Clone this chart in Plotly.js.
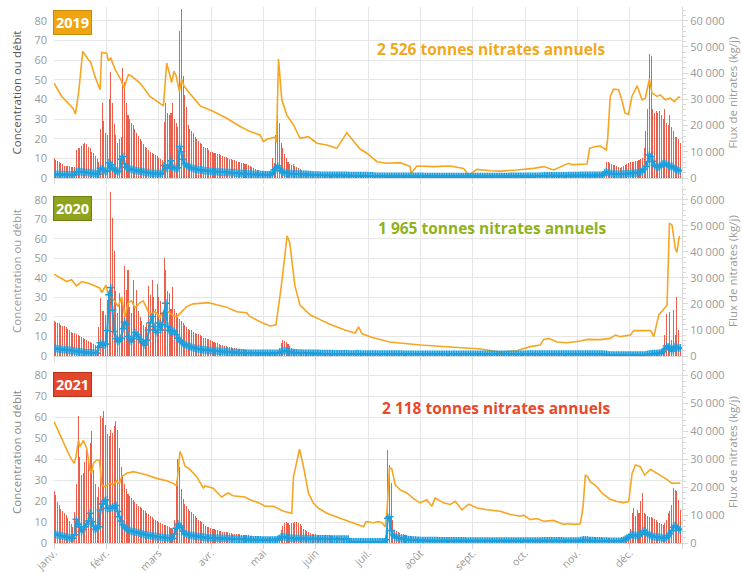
<!DOCTYPE html>
<html><head><meta charset="utf-8">
<script src="https://cdn.plot.ly/plotly-3.0.1.min.js"></script>
<style>html,body{margin:0;padding:0;background:#fff}#chart{width:742px;height:573px}</style>
</head><body><div id="chart"></div>
<script>
const years = ['2019', '2020', '2021'];
const totals = [2526, 1965, 2118];
const months = ['janv.', 'févr.', 'mars', 'avr.', 'mai', 'juin', 'juil.', 'août', 'sept.', 'oct.', 'nov.', 'déc.'];

// ---- 2019 ----
const flux2019 = [
7500,6800,6400,6000,5600,5300,4500,4500,4400,4400,
4100,4100,4100,10700,11300,11600,12400,12800,13300,12800,
12000,11300,10100,9500,8300,7100,6000,18800,28500,21800,
17300,16500,30000,40500,28500,20700,16500,13500,15000,15800,
42000,36800,28500,24000,22500,21000,20300,18800,17300,16100,
15000,14300,13100,12000,11300,10500,9800,9400,9000,8600,
8300,7500,7100,6800,21500,28500,24800,24000,24800,28500,
22500,21000,19500,56000,64500,39000,31500,27000,20300,18800,
18000,17300,15800,15000,14300,13500,12800,12000,11600,11300,
10500,10100,9800,9600,9400,9200,9000,8600,8300,8100,
7900,7500,7400,7100,7000,6800,6500,6200,6000,5800,
5600,5400,5300,4900,4500,4100,3800,3500,3200,2900,
2600,2400,2300,2100,2000,1900,2300,7500,5600,16500,
30800,21000,13500,11300,9000,7500,6000,5300,4900,5300,
4500,4100,3800,3400,3000,2600,2300,1900,1500,1400,
1100,1000,950,900,900,880,860,850,830,820,
800,800,790,780,900,1100,1300,1200,1000,900,
850,800,780,760,740,720,700,700,680,660,
650,640,620,600,600,580,560,550,540,530,
520,510,500,500,490,480,470,460,460,450,
450,440,440,430,430,420,420,400,380,400,
410,410,400,400,400,390,390,390,380,380,
380,370,370,370,360,360,360,350,350,350,
350,340,340,340,330,330,330,320,320,320,
310,300,310,320,320,320,320,320,310,310,
310,300,300,300,300,300,300,300,290,290,
290,290,290,290,290,300,300,300,310,310,
320,320,330,330,340,340,350,350,360,360,
370,380,390,400,410,420,430,430,440,440,
450,450,460,470,480,500,520,540,560,600,
650,700,700,720,740,760,780,800,820,850,
900,1400,1600,1700,1800,1900,1900,1900,1800,1800,
2500,6200,6000,5600,5300,5100,4900,4500,4100,3800,
4100,4500,4900,5300,5600,6000,6000,6000,6400,6400,
6800,7100,7500,11300,18000,26300,47300,46500,26300,24800,
25500,24800,25500,24000,22500,26300,21000,20300,24000,19500,
18000,15800,15800,15000,13500];
const debit2019 = [
1.9,1.9,1.8,1.8,1.7,1.7,1.7,1.7,1.7,1.6,
1.6,1.6,1.7,3.2,3.3,3.2,3.1,3.0,2.9,2.8,
2.7,2.6,2.5,2.4,2.2,2.1,2.0,4.9,4.6,3.8,
3.3,3.6,7.8,6.8,5.0,4.2,3.6,3.2,3.4,9.5,
10.9,7.2,5.5,4.9,4.6,4.3,4.1,3.9,3.8,3.6,
3.5,3.3,3.1,2.9,2.8,2.6,2.5,2.4,2.3,2.3,
2.2,2.2,2.2,2.3,6.3,5.0,4.9,6.5,8.8,5.5,
4.9,4.8,5.2,16.0,13.4,9.5,7.2,6.3,5.8,5.4,
5.1,4.9,4.6,4.4,4.2,4.1,4.0,3.8,3.7,3.6,
3.5,3.4,3.3,3.3,3.2,3.2,3.1,3.0,3.0,2.9,
2.9,2.8,2.8,2.7,2.7,2.6,2.5,2.4,2.4,2.3,
2.2,2.2,2.1,2.1,2.0,1.9,1.9,1.8,1.8,1.8,
1.7,1.7,1.7,1.6,1.6,1.6,1.7,2.5,4.1,5.0,
6.1,5.0,3.7,3.0,2.6,2.4,2.3,2.2,2.2,2.1,
2.1,2.0,2.0,2.0,1.9,1.9,1.8,1.8,1.7,1.7,
1.6,1.5,1.5,1.5,1.5,1.4,1.4,1.4,1.4,1.4,
1.3,1.3,1.3,1.3,1.3,1.4,1.4,1.3,1.3,1.3,
1.3,1.3,1.2,1.2,1.2,1.2,1.2,1.2,1.2,1.2,
1.2,1.2,1.2,1.1,1.1,1.1,1.0,0.9,0.9,0.9,
0.9,0.9,0.9,0.8,0.8,0.8,0.8,0.8,0.8,0.8,
0.8,0.8,0.8,0.8,0.8,0.8,0.8,0.8,0.8,0.8,
0.8,0.8,0.8,0.8,0.8,0.7,0.7,0.7,0.7,0.7,
0.7,0.7,0.7,0.7,0.7,0.7,0.7,0.7,0.7,0.7,
0.7,0.7,0.7,0.7,0.7,0.7,0.7,0.7,0.7,0.7,
0.7,0.7,0.7,0.7,0.7,0.7,0.7,0.7,0.7,0.7,
0.7,0.7,0.7,0.7,0.7,0.7,0.7,0.7,0.7,0.7,
0.7,0.7,0.7,0.7,0.7,0.8,0.8,0.8,0.8,0.8,
0.8,0.8,0.8,0.8,0.8,0.8,0.8,0.8,0.8,0.8,
0.9,0.9,0.9,1.0,1.0,1.1,1.1,1.1,1.1,1.1,
1.1,1.1,1.1,1.1,1.1,1.1,1.1,1.1,1.1,1.2,
1.2,1.2,1.2,1.2,1.2,1.2,1.3,1.3,1.3,1.3,
1.3,1.3,1.3,1.3,1.3,1.3,1.3,1.3,1.4,1.5,
2.5,3.2,2.8,2.4,2.2,2.1,2.0,2.0,1.9,1.9,
2.0,2.1,2.1,2.2,2.3,2.3,2.4,2.4,2.5,2.6,
2.8,3.0,3.5,4.5,6.0,8.3,11.7,10.9,8.5,6.6,
5.8,5.5,6.0,6.6,7.1,7.5,7.0,6.2,5.8,6.1,
5.5,4.8,4.1,3.9,3.7];
const concDay2019 = [0,4.5,11,12.5,14.5,16.7,20,21.3,23.8,26.8,27.7,30.6,31.6,33,35.6,38.9,40.7,43.2,44.8,50,55.8,61.6,63.6,65.5,68.4,69.7,71,72.9,74.2,75.5,77.5,85,92.6,100.4,108.2,114,119.8,121.7,123.6,128.5,129.3,130.5,132.4,135.3,139.2,143,147.9,152.8,158.6,164.4,170.2,172,178,181.9,187.7,193.5,201.2,207,207.5,210.9,220.6,230.3,238,241,245.8,253.6,259.4,269,278.7,284.6,290.4,299,301,309.8,311.3,314.6,317.5,321,321.8,323.3,325.2,328.2,330,331.9,333.9,335.9,338.9,341.8,343.7,346,347.6,350.5,352.4,355.3,358.2,360.6,363,364];
const conc2019 = [48.3,41.5,35.5,32.5,45,64.4,60.2,59,51.7,44.9,63.9,63.5,59.7,61,55,50,45.7,52.5,52,48.3,41.5,38,36.7,58.5,48.6,54.2,52,44,50.3,47,44.5,36.7,33.8,30.4,26.2,23.6,21.9,18.5,19.7,20.7,18,60.5,39.8,32,27,20.2,21,17.7,16.8,15.1,23.1,21,14.6,12.6,8.3,7.5,7.8,5.8,2.4,6.1,5.8,6.1,4.9,1.5,4.4,3.7,3.5,4.1,4.9,5.8,4.1,7.5,6.8,7.1,15.1,16,16.3,14.3,20,41.5,45.2,44.9,39.8,33,32.3,41.5,46.9,39.8,40.6,50.3,43.2,41.5,42.3,39.8,40.6,38.9,41.2,41];

// ---- 2020 ----
const flux2020 = [
13400,13100,12800,12500,12000,11600,11400,11200,10500,9800,
9200,9000,8800,8600,8100,7700,7300,7000,6600,6200,
5900,5400,5000,4700,4400,4100,11300,22100,17300,17300,
15800,21500,25400,63000,53000,40400,24800,16500,24000,22500,
19500,34500,25500,33000,18800,16500,29300,18800,25500,17300,
15000,13500,11800,11300,12500,26700,23300,29300,22500,18000,
27800,22500,21000,16500,37500,33000,24800,24000,18000,26300,
18000,16500,15800,14300,13500,12800,12000,11300,10500,10100,
9800,9400,9000,8600,8300,7900,7500,7100,6800,6600,
6400,6000,5700,5400,5100,4900,4700,4400,4200,4000,
3800,3600,3500,3300,3200,3000,2900,2700,2600,2400,
2300,2200,2100,2000,1900,1800,1700,1700,1600,1600,
1500,1500,1400,1400,1400,1300,1300,1300,1200,1300,
2000,3000,5000,6200,5800,5200,4500,3800,3200,2700,
2300,2000,1800,1600,1500,1400,1300,1200,1100,1100,
1000,1000,950,900,900,850,850,800,800,800,
750,750,750,700,700,700,700,700,650,650,
650,650,650,650,700,800,900,800,700,650,
600,600,600,550,550,550,500,500,500,500,
480,480,460,460,450,450,440,440,430,430,
420,420,410,410,400,400,400,390,390,390,
380,380,380,370,370,370,360,360,360,350,
350,350,340,340,340,330,330,330,320,320,
320,310,310,310,300,300,300,290,290,290,
280,280,280,270,270,270,260,260,260,250,
250,250,240,240,240,230,230,220,220,210,
210,200,200,200,210,220,230,240,250,260,
270,280,300,320,340,360,380,400,420,440,
460,480,500,600,700,720,730,700,680,650,
630,600,600,580,580,570,570,560,560,560,
570,580,590,600,620,640,660,680,700,720,
740,740,740,730,730,730,720,720,720,720,
700,650,500,450,400,380,380,380,380,380,
380,380,380,400,420,430,450,500,550,600,
600,600,600,600,600,650,800,900,1000,1100,
1200,1400,1600,2000,3500,8000,16000,4000,17000,6000,
17500,8000,22500,10000,4000];
const debit2020 = [
3.9,3.8,3.7,3.5,3.4,3.3,3.2,3.1,3.0,2.9,
2.8,2.7,2.5,2.3,2.2,2.1,2.0,1.9,1.8,1.7,
1.7,1.6,1.6,1.5,1.5,1.4,4.5,6.8,6.0,5.6,
6.2,13.0,31.3,35.0,23.4,12.5,9.0,7.3,8.0,9.1,
14.0,17.4,16.2,10.0,8.5,7.3,9.0,12.0,11.0,10.0,
8.5,7.3,6.5,5.6,8.0,13.3,17.0,20.2,15.1,13.0,
12.0,16.9,13.3,16.0,21.9,27.0,15.1,13.0,12.5,13.0,
12.5,11.0,9.1,8.0,7.2,6.5,6.0,5.5,5.1,4.8,
4.5,4.2,4.0,3.7,3.5,3.4,3.3,3.2,3.1,3.0,
2.9,2.8,2.7,2.6,2.6,2.5,2.4,2.3,2.2,2.2,
2.1,2.0,2.0,1.9,1.9,1.8,1.8,1.7,1.7,1.6,
1.6,1.5,1.5,1.4,1.4,1.4,1.4,1.3,1.3,1.3,
1.3,1.3,1.3,1.3,1.3,1.3,1.3,1.3,1.3,1.3,
1.4,1.5,2.0,2.6,2.8,2.6,2.3,2.0,1.8,1.7,
1.6,1.6,1.5,1.5,1.5,1.4,1.4,1.4,1.4,1.3,
1.3,1.3,1.3,1.3,1.3,1.2,1.2,1.2,1.2,1.2,
1.2,1.2,1.2,1.1,1.1,1.1,1.1,1.1,1.1,1.1,
1.1,1.1,1.0,1.0,1.0,1.1,1.2,1.1,1.0,1.0,
1.0,1.0,1.0,1.0,1.0,1.0,1.0,1.0,1.0,1.0,
1.0,1.0,1.0,1.0,1.0,1.0,1.0,1.0,1.0,1.0,
1.0,1.0,1.0,0.9,0.9,0.9,0.9,0.9,0.9,0.9,
0.9,0.9,0.9,0.9,0.9,0.9,0.9,0.9,0.9,0.9,
0.9,0.9,0.9,0.9,0.9,0.9,0.9,0.9,0.9,0.9,
0.9,0.9,0.9,0.9,0.9,0.9,0.9,0.9,0.9,0.9,
0.9,0.9,0.9,0.9,0.9,0.9,0.9,0.9,0.9,0.9,
0.9,0.9,0.9,0.9,0.9,0.9,0.9,0.9,0.9,0.9,
0.9,0.9,0.9,0.9,0.9,0.9,0.9,0.9,0.9,0.9,
0.9,0.9,0.9,0.9,0.9,1.0,1.0,1.0,1.0,1.0,
1.0,1.0,1.0,1.0,1.0,1.0,1.0,1.0,1.0,1.0,
1.0,1.0,1.0,1.0,1.0,1.0,1.0,1.0,1.0,1.0,
1.0,1.0,1.0,1.0,1.0,1.0,1.0,1.0,1.0,1.0,
1.0,1.0,1.0,1.0,1.0,1.0,1.0,1.0,1.0,1.0,
0.9,0.8,0.6,0.5,0.5,0.5,0.5,0.5,0.5,0.5,
0.5,0.5,0.5,0.5,0.5,0.5,0.5,0.5,0.5,0.5,
0.5,0.5,0.5,0.5,0.6,0.8,1.0,1.1,1.2,1.2,
1.2,1.3,1.4,1.6,2.3,3.5,5.1,4.5,3.9,2.6,
3.9,4.8,4.3,3.9,4.2];
const concDay2020 = [0,4.4,7.3,10.2,13.1,16.1,20.9,26.7,27.7,30.2,31.6,32.6,34.5,37.4,39.3,41.3,43.2,45.1,47.1,50,51.9,54.8,56.8,58.7,61.6,63.5,65.5,67.4,69.3,71.3,74.2,77.1,80.9,84.8,89.7,94.5,100.4,106.2,112,113.5,121,125.6,129,132,135.5,137,140,143,149,155,160,169,175,177,179,184,195,213,230,248,259.4,269,276.8,282.6,284.6,287.5,292.3,298,306,310,317.5,323.3,326.3,329.2,335,337,346.7,348.6,351.5,354.4,356.3,357.7,359.2,361.1,362,363.4,364];
const conc2020 = [41.9,39.8,38.1,39,35.9,38.1,37,34.7,32.5,36.2,31.3,30.1,29,25.3,30.3,20.2,27.3,28.2,24.7,27.3,28.2,22.6,21.7,22.6,20,22.6,23.4,21.7,20.9,20,22.6,25.3,26.7,27,27.3,26.2,25,22.6,22.1,20.4,17,15.4,16,35,61.5,58,36,26,21,18.5,16.4,13.3,11.8,14.9,11.5,9.7,7.2,5.6,4.6,3.6,2,2.7,4.8,5.6,8.5,9,7.2,6.8,7.7,8.5,8.4,9,10.7,9.9,10.7,13,13,9.9,21,24.4,26,68,67,55,53,61,61];

// ---- 2021 ----
const flux2021 = [
18800,17300,14700,13500,12300,11400,10700,9900,8900,7900,
6900,5800,11100,21300,45600,31000,24400,25200,29200,34400,
28600,36000,40000,26200,21300,16500,20100,45400,44800,47200,
42400,39200,38500,40600,39400,41800,43600,40600,34000,27400,
24400,21300,19500,17700,16900,16100,15300,14600,14000,13400,
12900,12400,11900,11300,10800,10300,9800,9200,8700,8300,
8000,7600,7200,6900,6600,6300,6000,5700,5500,5200,
8100,22400,30200,27200,19400,15800,14000,13100,12300,11600,
11000,10500,9800,9000,8400,7900,7400,6800,6200,5800,
5600,5300,5100,4900,4700,4500,4400,4300,4100,4100,
4000,3800,3700,3500,3400,3300,3200,3200,3100,3000,
2900,2900,2800,2700,2600,2500,2500,2400,2400,2300,
2300,2200,2200,2100,2100,2000,2000,2000,1900,1900,
2200,3000,4500,6000,7000,7500,7000,6500,7000,7000,
7500,7600,7200,6800,6000,5200,4600,4300,3900,3600,
3400,3200,3100,3000,2900,2800,2800,2700,2700,2600,
2500,2400,2300,2200,2100,2000,1900,1800,1700,1700,
1600,1600,900,850,800,800,800,800,800,800,
800,800,800,800,800,800,800,800,800,800,
780,760,750,5000,33400,28000,21500,8300,4700,4200,
3800,3500,3300,3100,2900,2700,2500,2400,2200,2100,
2000,1800,1700,1600,1500,1400,1400,1300,1300,1200,
1200,1100,1100,1100,1000,1000,1000,1000,950,950,
950,900,900,900,900,850,850,850,850,800,
800,800,800,800,780,780,760,760,740,740,
720,720,700,700,700,680,680,660,660,640,
640,620,620,600,600,600,580,580,560,560,
550,550,540,540,530,530,520,520,510,510,
500,500,500,490,490,480,480,470,470,460,
460,450,450,440,440,430,430,420,420,420,
410,410,400,400,400,400,500,1800,2600,2500,
2400,2300,2300,2200,2200,2100,2100,2000,2000,1900,
1900,1800,1700,1600,1400,1200,1100,1000,1000,1000,
1100,1300,1600,2000,2500,5200,10700,12500,9800,11900,
10700,14900,17900,10700,10400,9800,9500,9200,8900,8600,
8300,7700,7100,6800,6500,7000,8300,10700,11300,13700,
19700,19100,18500,15500,12000];
const debit2021 = [
4.3,4.1,3.9,3.7,3.5,3.3,3.1,2.9,2.7,2.5,
2.3,2.2,4.0,11.3,9.0,7.8,5.4,6.5,7.8,9.1,
10.5,14.2,10.2,8.0,6.5,7.0,7.8,15.8,18.7,20.0,
20.6,16.6,16.5,16.6,17.0,17.4,17.9,15.0,12.6,10.5,
8.6,7.5,6.8,6.2,5.9,5.6,5.4,5.2,5.1,4.9,
4.7,4.5,4.2,4.0,3.8,3.7,3.5,3.4,3.2,3.1,
3.0,2.9,2.8,2.7,2.6,2.5,2.4,2.3,2.2,2.2,
4.3,7.0,9.1,8.2,7.5,5.6,4.6,4.2,3.9,3.7,
3.6,3.5,3.3,3.2,3.1,3.0,2.9,2.8,2.6,2.5,
2.5,2.4,2.4,2.3,2.3,2.3,2.2,2.2,2.2,2.2,
2.2,2.1,2.1,2.0,2.0,1.9,1.9,1.9,1.8,1.8,
1.8,1.7,1.7,1.7,1.6,1.6,1.5,1.5,1.5,1.5,
1.5,1.4,1.4,1.4,1.4,1.4,1.4,1.4,1.4,1.5,
1.7,2.2,2.8,3.0,2.9,2.7,2.5,2.4,2.3,2.2,
2.2,2.2,2.2,2.1,2.1,2.1,2.1,2.1,2.0,2.0,
2.0,2.0,2.0,2.0,2.0,2.0,2.0,2.0,2.0,2.0,
2.0,2.0,1.9,1.9,1.9,1.9,1.9,1.9,1.9,1.9,
1.9,1.9,0.6,0.6,0.6,0.6,0.6,0.6,0.6,0.6,
0.6,0.6,0.6,0.6,0.6,0.6,0.6,0.6,0.6,0.6,
0.6,0.6,0.6,1.5,11.8,12.6,6.0,3.8,3.0,2.6,
2.4,2.2,2.0,1.9,1.8,1.7,1.6,1.5,1.5,1.4,
1.4,1.3,1.3,1.2,1.2,1.2,1.1,1.1,1.1,1.1,
1.1,1.1,1.1,1.1,1.0,1.0,1.0,1.0,1.0,1.0,
1.0,1.0,1.0,1.0,1.0,1.0,1.0,1.0,1.0,1.0,
0.9,0.9,0.9,0.9,0.9,0.9,0.9,0.9,0.9,0.9,
0.9,0.9,0.9,0.9,0.9,0.9,0.9,0.9,0.9,0.9,
0.9,0.9,0.9,0.9,0.9,0.9,0.9,0.9,0.9,0.9,
0.9,0.9,0.9,0.9,0.9,0.9,0.9,0.9,0.9,0.9,
0.9,0.9,0.9,0.9,1.0,1.0,1.0,1.0,1.0,1.0,
1.0,1.0,1.0,1.0,1.0,1.0,0.9,0.9,0.9,0.9,
0.9,0.9,0.9,0.9,0.9,0.9,1.2,1.3,1.3,1.3,
1.3,1.2,1.2,1.1,1.0,0.9,0.9,0.9,0.9,0.9,
0.9,0.9,0.9,0.8,0.8,0.8,0.8,0.8,0.8,0.8,
1.0,1.3,1.8,2.3,2.7,3.3,4.0,3.8,3.5,3.5,
3.5,4.2,5.0,5.9,4.8,4.3,3.9,3.6,3.2,3.0,
2.9,2.8,2.7,2.5,2.3,2.2,2.6,3.5,4.6,5.9,
7.5,8.3,7.5,6.7,6.2];
const concDay2021 = [0,2.5,6.4,9.3,11.7,12.8,14.2,15.1,17.1,19,20.9,21.8,22.9,24.8,26.4,27.7,29.7,32.6,34.5,36.4,38,39.3,42.2,46.1,50,53.9,59.7,65.5,69.3,71.3,72.2,73.2,74.2,76.1,79,82.9,86.8,87.7,92.5,97.4,101.2,104.1,110.9,113.9,118.8,122.7,127.6,133.4,138.2,139.2,142.7,145,147.9,150.8,153.7,158.6,166.3,174.1,179.9,181.4,185.7,188.6,190.6,192.5,193.5,195,196.4,198.3,201.2,205.1,209,212.8,216.7,219.6,221.5,226.4,230.3,233.2,237.1,241,245.8,251.6,259.4,265.2,271,272.9,276.8,280.7,284.6,290.4,296.2,298.1,303,305.9,307.5,308.8,310.2,311.7,315.6,318.5,323.3,327.2,331.1,334,336,337.9,340.8,343.3,346.6,350.5,355.3,359.2,363,364];
const conc2021 = [58,53.3,46.1,41.3,38.1,41.3,49,46.1,49,45.3,34.9,33.3,38.1,39.7,39.7,27.8,26.9,28.5,27.8,29.8,28.2,31.7,33.3,34.1,33.3,32.5,30.9,29.8,28.5,27.3,34.9,43.7,42.1,36.8,35.2,31.7,26.3,27.3,26.2,22,23.9,22.6,22,20.7,19.3,17.6,17.6,15.2,14.2,31.7,44.8,36.5,23.8,19,16.6,14.2,11.8,9.4,7.8,10.2,9.7,10.2,9.7,7.8,14.8,36.2,35.3,27.8,25.4,23.9,21.2,19.2,20.7,17.5,21.5,19.2,18.4,19.9,15.9,18.6,16.7,15.9,15.2,13.6,12.8,13.3,11.2,11.7,10.4,10.8,8.9,9.2,8.9,9.2,17.4,32.5,31.7,29.3,26.9,23.8,20.9,19.8,19.3,19.8,33.3,37.3,36.5,32.5,35.2,33.3,30.9,28.5,28.5,28.7];

// ---------- styling / layout ----------
const FONT = '"Open Sans", "DejaVu Sans", sans-serif';
const W = 742, H = 573, ML = 54, MR = 60, MT = 7, MB = 30;
const PH = H - MT - MB, PW = W - ML - MR;
const CMAX = 87, RATIO = 750;
const colOrange = '#f5a623', colBlue = '#1e9fdc', colRed = 'rgba(232,67,45,0.85)';
const gridCol = '#e6e6e6', lineCol = '#d8d8d8', tickCol = '#999999';

const panels = [
  {flux: flux2019, debit: debit2019, cx: concDay2019, cy: conc2019, top: 7, bottom: 178,
   badge: '#efa512', border: '#c98a05', text: '#f2a81d', badgeTop: 10, labelX: 491, labelY: 48.5, ltitle: '#555'},
  {flux: flux2020, debit: debit2020, cx: concDay2020, cy: conc2020, top: 186, bottom: 356,
   badge: '#8fa31c', border: '#6f7f10', text: '#8fb21c', badgeTop: 196, labelX: 492, labelY: 228.3, ltitle: '#999'},
  {flux: flux2021, debit: debit2021, cx: concDay2021, cy: conc2021, top: 361, bottom: 543,
   badge: '#e2472b', border: '#b8321a', text: '#e8492d', badgeTop: 372, labelX: 496, labelY: 408.3, ltitle: '#888'}
];
const py = v => (H - MB - v) / PH;   // pixel -> paper
const px = v => (v - ML) / PW;
const sfx = n => n === 1 ? '' : String(n);
const fmt = n => String(n).replace(/\B(?=(\d{3})+(?!\d))/g, ' ');

const nDays = flux2019.length;
const days = flux2019.map((_, i) => i);
const monthTicks = months.map((_, i) => i * nDays / 12).concat([nDays]);
const monthText = months.concat(['']);

const traces = [];
const layout = {
  width: W, height: H,
  margin: {l: ML, r: MR, t: MT, b: MB},
  paper_bgcolor: '#fff', plot_bgcolor: '#fff',
  showlegend: false, separators: ', ',
  font: {family: FONT, size: 11, color: tickCol},
  bargap: 0, annotations: []
};

panels.forEach((p, i) => {
  const xa = 'x' + sfx(i + 1), yf = 'y' + sfx(2 * i + 1), yc = 'y' + sfx(2 * i + 2);
  const dom = [py(p.bottom), py(p.top)];
  traces.push({type: 'bar', x: days, y: p.flux, xaxis: xa, yaxis: yf, width: 0.6,
    marker: {color: colRed, line: {width: 0}}, hoverinfo: 'skip'});
  traces.push({type: 'scatter', mode: 'lines', x: p.cx, y: p.cy, xaxis: xa, yaxis: yc,
    line: {color: colOrange, width: 1.6}, hoverinfo: 'skip'});
  traces.push({type: 'scatter', mode: 'lines+markers', x: days, y: p.debit, xaxis: xa, yaxis: yc,
    line: {color: colBlue, width: 2},
    marker: {symbol: 'cross-thin', size: 5.5, line: {color: colBlue, width: 1.5}}, hoverinfo: 'skip'});

  layout['xaxis' + sfx(i + 1)] = {
    domain: [0, 1], range: [0, nDays], anchor: yf,
    tickmode: 'array', tickvals: monthTicks, ticktext: monthText,
    showticklabels: i === 2, tickangle: -45, tickfont: {size: 10.5, color: tickCol},
    ticklabelstandoff: -6,
    showgrid: true, gridcolor: gridCol, gridwidth: 1,
    ticks: 'outside', ticklen: 5, tickcolor: lineCol,
    showline: true, linecolor: lineCol, zeroline: false
  };
  layout['yaxis' + sfx(2 * i + 1)] = {
    domain: dom, range: [0, CMAX * RATIO], anchor: xa, side: 'right',
    dtick: 10000, tickformat: ',d', showgrid: false, zeroline: false,
    showline: true, linecolor: lineCol, ticks: 'outside', ticklen: 5, tickcolor: lineCol,
    minor: {dtick: 2000, ticks: 'outside', ticklen: 3, tickcolor: lineCol},
    tickfont: {size: 11, color: tickCol},
    title: {text: 'Flux de nitrates (kg/j)', font: {size: 11.5, color: '#999'}, standoff: 4}
  };
  layout['yaxis' + sfx(2 * i + 2)] = {
    overlaying: yf, anchor: xa, side: 'left', range: [0, CMAX], dtick: 10,
    showgrid: true, gridcolor: gridCol, zeroline: false, showline: false,
    ticks: '', ticklabelstandoff: 6, tickfont: {size: 11, color: tickCol},
    title: {text: 'Concentration ou débit', font: {size: 11.5, color: p.ltitle}, standoff: 10}
  };
  layout.annotations.push({
    xref: 'paper', yref: 'paper', x: 0, y: py(p.badgeTop), xanchor: 'left', yanchor: 'top',
    xshift: -1, showarrow: false, text: '<b>' + years[i] + '</b>',
    font: {family: FONT, size: 14.5, color: '#fff'},
    bgcolor: p.badge, bordercolor: p.border, borderwidth: 1, borderpad: 2
  });
  layout.annotations.push({
    xref: 'paper', yref: 'paper', x: px(p.labelX), y: py(p.labelY), xanchor: 'center', yanchor: 'middle',
    showarrow: false, text: '<b>' + fmt(totals[i]) + ' tonnes nitrates annuels</b>',
    font: {family: FONT, size: 15.5, color: p.text}
  });
});

Plotly.newPlot('chart', traces, layout, {staticPlot: true, displayModeBar: false});
</script>
</body></html>
